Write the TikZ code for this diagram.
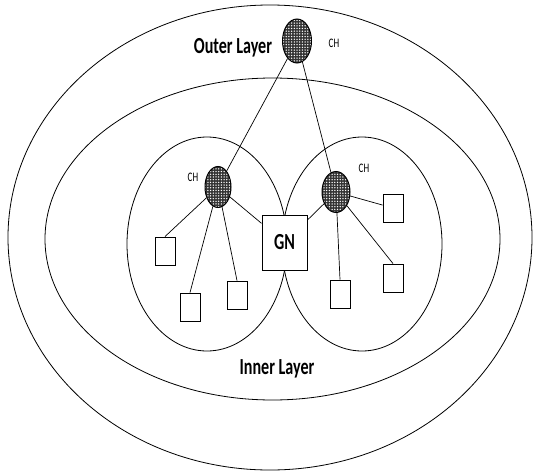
\documentclass[tikz,border=0pt]{standalone}
\usepackage{fontspec}
\setmainfont{Carlito}
\usepackage{graphicx}
\usetikzlibrary{patterns.meta,shapes.geometric}
\newcommand{\narrow}[1]{\scalebox{0.7}[1]{#1}}

\begin{document}
\begin{tikzpicture}[x=1pt,y=-1pt,line width=0.8pt]
      \tikzstyle{ch}=[draw,ellipse,inner sep=0pt,line width=1pt,preaction={fill=black!80},pattern={Dots[distance=2.7pt,radius=0.75pt]},pattern color=white];
      \tikzstyle{sensor}=[draw,rectangle,inner sep=0pt,minimum width=20pt,minimum height=28pt,line width=0.9pt];
      \tikzstyle{layer}=[font=\bfseries\fontsize{23}{23}\selectfont];
      \tikzstyle{chlabel}=[font=\fontsize{13}{13}\selectfont];
        \useasboundingbox (0,0) rectangle (533,474);

        \path[draw] (270,237.5) ellipse [x radius=262, y radius=232.5];
        \path[draw] (272.5,239) ellipse [x radius=227.5, y radius=161];
        \path[draw] (207,244) ellipse [x radius=80, y radius=107];
        \path[draw] (362,244) ellipse [x radius=80, y radius=107];

        \node[layer] (outer) at (233,48) {\narrow{Outer Layer}};
        \node[layer] (inner) at (277,369) {\narrow{Inner Layer}};

        \node[ch,minimum width=29pt,minimum height=44pt] (chtop) at (297,41) {};
        \node[ch,minimum width=26pt,minimum height=41pt] (chleft) at (218,187) {};
        \node[ch,minimum width=28pt,minimum height=41pt] (chright) at (336,192) {};
        \node[chlabel] (ltop) at (334,43) {\narrow{CH}};
        \node[chlabel] (lleft) at (193,177) {\narrow{CH}};
        \node[chlabel] (lright) at (364,168) {\narrow{CH}};

        \node[draw,rectangle,fill=white,inner sep=0pt,minimum width=45pt,minimum height=55pt,line width=1pt,layer] (gn) at (284.5,242.5) {\narrow{GN}};

        \node[sensor] (s1) at (165,251) {};
        \node[sensor] (s2) at (190,307) {};
        \node[sensor] (s3) at (237,295) {};
        \node[sensor] (s4) at (340,294) {};
        \node[sensor] (s5) at (393,208) {};
        \node[sensor] (s6) at (393,278) {};

        \path[draw,line width=0.7pt] (chtop) -- (chleft);
        \path[draw,line width=0.7pt] (chtop) -- (chright);
        \path[draw,line width=0.7pt] (chleft) -- (s1.north);
        \path[draw,line width=0.7pt] (chleft) -- (s2.north);
        \path[draw,line width=0.7pt] (chleft) -- (s3.north);
        \path[draw,line width=0.7pt] (chleft) -- (gn);
        \path[draw,line width=0.7pt] (chright) -- (gn);
        \path[draw,line width=0.7pt] (chright) -- (s4.north);
        \path[draw,line width=0.7pt] (chright) -- (s5);
        \path[draw,line width=0.7pt] (chright) -- (s6.north);
    \end{tikzpicture}
\end{document}
